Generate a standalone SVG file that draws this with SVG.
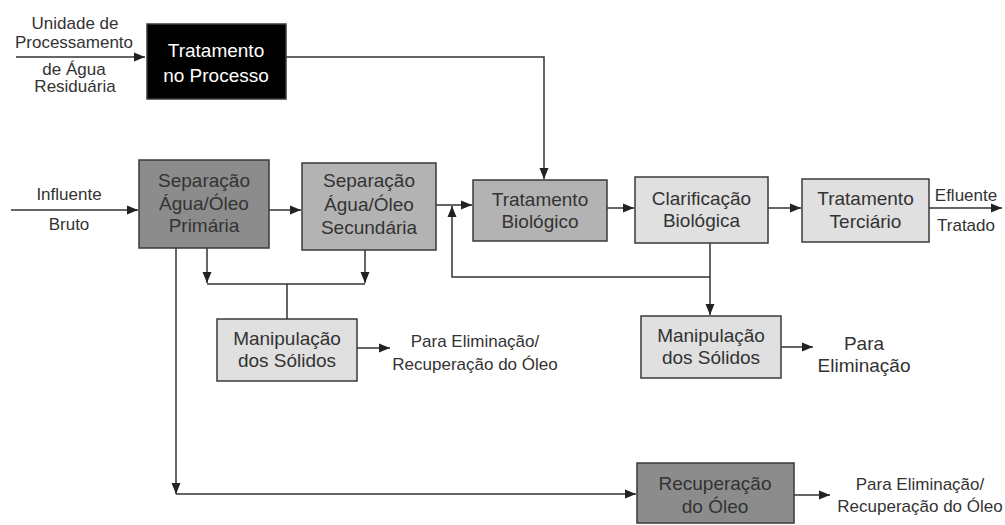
<svg xmlns="http://www.w3.org/2000/svg" width="1005" height="525" viewBox="0 0 1005 525">
<style>
.box{stroke:#3a3a3a;stroke-width:1.5}
.dark{fill:#8c8c8c}
.mid{fill:#b3b3b3}
.light{fill:#e0e0e0}
.blk{fill:#000}
.t{font-family:"Liberation Sans",Arial,sans-serif;font-size:19px;fill:#333;text-anchor:middle}
.w{fill:#fff}
.l{font-family:"Liberation Sans",Arial,sans-serif;font-size:17px;fill:#333;text-anchor:middle}
.c{fill:none;stroke:#333;stroke-width:1.5}
</style>
<defs>
<marker id="ah" markerUnits="userSpaceOnUse" markerWidth="12" markerHeight="12" viewBox="0 0 12 12" refX="11" refY="6" orient="auto">
<path d="M0,1.5 L11,6 L0,10.5 Z" fill="#222"/>
</marker>
</defs>
<g id="connectors">
<path class="c" d="M16,57 H145" marker-end="url(#ah)"/>
<path class="c" d="M286,57 H544 V179" marker-end="url(#ah)"/>
<path class="c" d="M11,210 H138" marker-end="url(#ah)"/>
<path class="c" d="M269,210 H301" marker-end="url(#ah)"/>
<path class="c" d="M436,205 H472" marker-end="url(#ah)"/>
<path class="c" d="M607,208 H634" marker-end="url(#ah)"/>
<path class="c" d="M768,208 H801" marker-end="url(#ah)"/>
<path class="c" d="M929,208 H1002" marker-end="url(#ah)"/>
<path class="c" d="M710,243 V315" marker-end="url(#ah)"/>
<path class="c" d="M710,277 H452 V206" marker-end="url(#ah)"/>
<path class="c" d="M207,248 V283" marker-end="url(#ah)"/>
<path class="c" d="M365,250 V283" marker-end="url(#ah)"/>
<path class="c" d="M207,284 H365 M287,284 V319"/>
<path class="c" d="M357,348 H390" marker-end="url(#ah)"/>
<path class="c" d="M781,347 H813" marker-end="url(#ah)"/>
<path class="c" d="M176,248 V494" marker-end="url(#ah)"/>
<path class="c" d="M176,494 H636" marker-end="url(#ah)"/>
<path class="c" d="M794,495 H830" marker-end="url(#ah)"/>
</g>
<g id="labels">
<text class="l" x="75" y="29">Unidade de</text>
<text class="l" x="74" y="48">Processamento</text>
<text class="l" x="74" y="75">de Água</text>
<text class="l" x="75" y="92">Residuária</text>
<text class="l" x="69" y="200">Influente</text>
<text class="l" x="69" y="230">Bruto</text>
<text class="l" x="966" y="201">Efluente</text>
<text class="l" x="966" y="231">Tratado</text>
<text class="l" x="475" y="347">Para Eliminação/</text>
<text class="l" x="475" y="370">Recuperação do Óleo</text>
<text class="t" x="864" y="350">Para</text>
<text class="t" x="864" y="372">Eliminação</text>
<text class="l" x="920" y="490">Para Eliminação/</text>
<text class="l" x="920" y="512">Recuperação do Óleo</text>
</g>
<g id="tratamento-processo">
<rect class="box blk" x="147" y="24" width="139" height="75"/>
<text class="t w" x="216" y="57">Tratamento</text>
<text class="t w" x="216" y="82">no Processo</text>
</g>
<g id="separacao-primaria">
<rect class="box dark" x="139" y="160" width="130" height="88"/>
<text class="t" x="204" y="187">Separação</text>
<text class="t" x="204" y="210">Água/Óleo</text>
<text class="t" x="204" y="232">Primária</text>
</g>
<g id="separacao-secundaria">
<rect class="box mid" x="302" y="163" width="134" height="87"/>
<text class="t" x="369" y="187">Separação</text>
<text class="t" x="369" y="211">Água/Óleo</text>
<text class="t" x="369" y="234">Secundária</text>
</g>
<g id="tratamento-biologico">
<rect class="box mid" x="473" y="180" width="134" height="61"/>
<text class="t" x="540" y="206">Tratamento</text>
<text class="t" x="540" y="228">Biológico</text>
</g>
<g id="clarificacao">
<rect class="box light" x="635" y="177" width="133" height="66"/>
<text class="t" x="701.5" y="205">Clarificação</text>
<text class="t" x="701.5" y="227">Biológica</text>
</g>
<g id="tratamento-terciario">
<rect class="box light" x="802" y="179" width="127" height="63"/>
<text class="t" x="865.5" y="205">Tratamento</text>
<text class="t" x="865.5" y="228">Terciário</text>
</g>
<g id="manipulacao-1">
<rect class="box light" x="217" y="319" width="140" height="62"/>
<text class="t" x="287" y="345">Manipulação</text>
<text class="t" x="287" y="367">dos Sólidos</text>
</g>
<g id="manipulacao-2">
<rect class="box light" x="641" y="316" width="140" height="62"/>
<text class="t" x="711" y="342">Manipulação</text>
<text class="t" x="711" y="364">dos Sólidos</text>
</g>
<g id="recuperacao-oleo">
<rect class="box dark" x="637" y="463" width="157" height="60"/>
<text class="t" x="715" y="490">Recuperação</text>
<text class="t" x="715" y="513">do Óleo</text>
</g>
</svg>
